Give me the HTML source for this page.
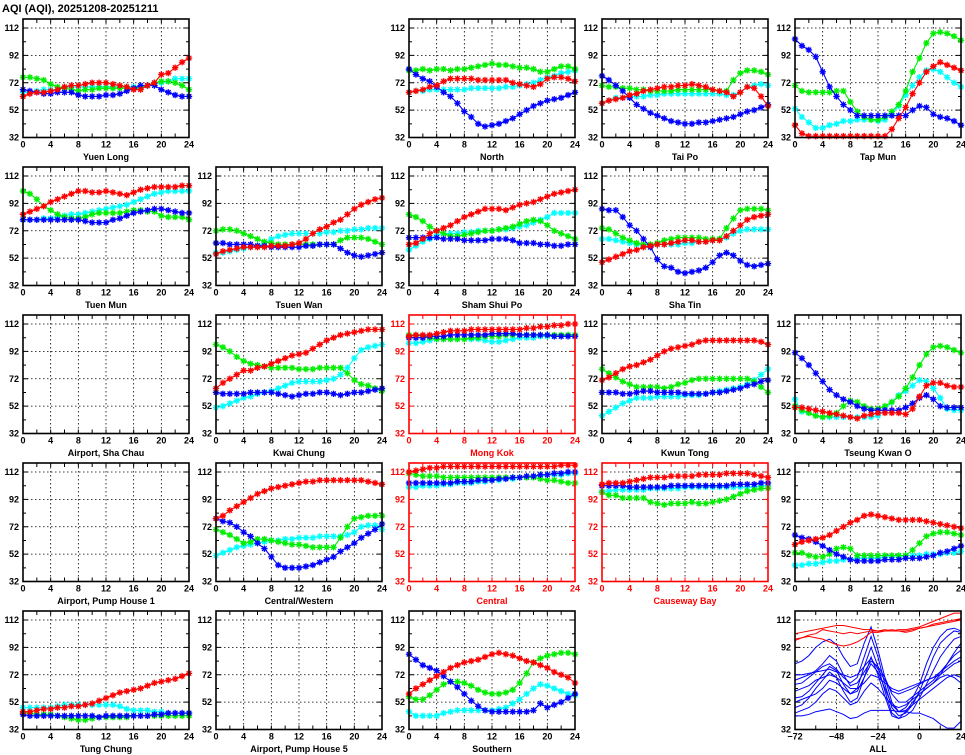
<!DOCTYPE html>
<html><head><meta charset="utf-8"><style>
body{margin:0;background:#fff;}
svg{display:block;font-family:"Liberation Sans",sans-serif;}
</style></head><body>
<svg id="chart" width="965" height="755" viewBox="0 0 965 755" xmlns="http://www.w3.org/2000/svg">
<text x="2" y="12" font-size="11" font-weight="bold">AQI (AQI), 20251208-20251211</text>
</svg>
<script>
const hours = [0,1,2,3,4,5,6,7,8,9,10,11,12,13,14,15,16,17,18,19,20,21,22,23,24];
const allHours = [-72,-68,-64,-60,-56,-52,-48,-44,-40,-36,-32,-28,-24,-20,-16,-12,-8,-4,0,4,8,12,16,20,24];
const yTicks = [32,52,72,92,112];
const xTicks = [0,4,8,12,16,20,24];
const allXTicks = [-72,-48,-24,0,24];

const yuenLong = {
 red:[62,64,65,65,66,67,69,70,70,71,72,72,72,71,70,69,67,67,70,72,78,79,83,87,90],
 green:[76,76,75,74,71,69,68,67,66,67,67,68,68,68,68,68,68,68,70,72,73,73,72,70,67],
 cyan:[65,65,66,67,67,67,68,69,69,69,69,69,69,69,69,69,69,69,70,71,72,73,75,75,75],
 blue:[67,66,65,64,64,65,65,65,63,62,62,62,63,63,64,66,68,70,70,70,67,65,63,62,62]};
const north = {
 red:[65,66,67,69,70,73,75,75,75,75,74,74,74,74,74,72,71,70,69,71,75,76,76,75,73],
 green:[81,81,82,81,82,82,81,82,82,83,84,85,86,85,85,84,83,83,82,80,80,82,84,84,82],
 cyan:[65,66,66,67,67,67,67,67,67,68,68,68,68,68,69,69,70,71,72,74,76,77,79,80,81],
 blue:[82,78,75,73,69,65,62,57,51,47,42,40,41,42,44,46,49,52,55,57,59,60,61,63,65]};
const taiPo = {
 red:[57,59,60,61,63,64,66,67,68,69,69,70,70,71,70,69,67,66,65,62,65,69,68,62,55],
 green:[70,69,69,68,68,67,67,66,66,66,66,67,67,67,67,67,67,66,66,74,79,81,81,80,78],
 cyan:[57,59,61,61,62,62,62,63,63,64,64,64,64,64,64,64,64,64,63,63,65,69,70,71,70],
 blue:[77,74,70,66,61,56,53,50,48,46,44,43,42,42,43,43,44,45,46,47,49,51,52,54,56]};
const tapMun = {
 red:[41,35,33,33,33,33,33,33,33,33,33,33,33,33,38,46,54,64,72,80,84,87,85,83,81],
 green:[70,66,65,65,65,65,66,66,58,51,47,45,45,47,51,56,66,80,90,101,108,109,108,106,103],
 cyan:[53,47,43,39,39,41,42,44,44,45,45,45,44,45,49,55,63,70,76,81,82,80,76,72,69],
 blue:[104,99,96,91,80,69,62,56,52,48,48,48,48,48,48,48,48,52,55,54,49,47,46,44,41]};
const tuenMun = {
 red:[84,86,88,90,93,95,97,99,101,101,100,100,101,100,99,98,100,102,103,104,104,104,104,105,105],
 green:[101,99,95,90,87,84,82,81,81,82,84,85,85,85,85,86,87,87,86,86,83,82,82,82,80],
 cyan:[80,80,80,81,81,82,83,84,84,85,86,87,88,89,90,91,93,95,97,99,100,101,101,101,101],
 blue:[80,80,80,80,80,80,80,80,80,79,78,78,78,80,81,83,85,86,87,88,88,87,86,85,85]};
const tsuenWan = {
 red:[55,57,58,59,60,60,60,60,61,61,61,62,63,66,70,73,75,78,80,84,88,91,93,95,96],
 green:[72,73,73,72,70,68,66,64,63,62,62,62,62,62,62,62,62,62,65,67,67,67,66,64,62],
 cyan:[56,56,57,58,59,60,61,63,66,68,69,70,70,70,70,70,71,71,72,72,73,73,74,74,74],
 blue:[63,63,62,62,62,62,61,61,60,60,60,60,60,61,61,62,62,62,59,56,54,53,54,55,56]};
const shamShuiPo = {
 red:[62,63,66,70,72,74,76,79,82,84,86,88,88,88,87,89,91,92,93,95,97,99,100,101,102],
 green:[84,82,79,75,72,70,68,68,69,70,71,72,72,73,74,75,77,79,80,79,76,72,70,68,66],
 cyan:[58,61,64,66,69,70,70,70,71,71,72,72,72,73,73,74,75,76,78,80,82,85,85,85,85],
 blue:[67,67,67,67,67,66,66,66,65,65,65,65,66,66,66,65,63,63,63,62,62,61,61,62,62]};
const shaTin = {
 red:[49,51,53,55,57,58,60,61,62,62,63,64,65,65,64,64,65,65,68,72,76,80,82,83,84],
 green:[74,73,70,67,65,63,62,62,63,65,66,67,67,67,67,66,66,66,74,81,87,88,88,88,87],
 cyan:[66,66,65,64,63,62,61,61,62,62,62,62,63,63,64,64,65,66,67,70,72,73,73,73,73],
 blue:[88,87,87,82,76,72,66,60,51,46,45,42,41,42,43,45,49,54,56,54,50,47,46,47,48]};
const kwaiChung = {
 red:[65,69,72,75,78,78,80,81,83,85,87,89,90,91,94,97,100,102,104,105,106,107,108,108,108],
 green:[97,95,92,88,85,83,82,81,80,80,80,80,79,79,79,80,80,80,80,76,71,68,67,65,63],
 cyan:[51,52,54,56,58,59,61,62,63,65,67,69,70,70,70,70,71,72,75,80,87,93,95,96,97],
 blue:[62,61,61,61,61,62,62,62,62,61,60,59,60,61,61,62,62,61,60,61,62,62,63,64,65]};
const mongKok = {
 red:[103,104,104,104,105,106,107,107,107,108,108,108,108,108,108,108,108,109,109,110,110,111,111,112,112],
 green:[104,104,103,102,101,101,101,101,101,102,102,103,103,103,104,104,104,104,104,104,104,104,104,104,104],
 cyan:[98,98,99,100,101,101,101,101,101,101,101,100,99,99,100,101,102,102,102,103,103,103,103,104,104],
 blue:[102,102,102,103,103,103,104,104,104,104,104,104,105,105,105,105,104,104,104,104,104,103,103,103,103]};
const kwunTong = {
 red:[71,73,76,79,81,82,84,86,89,92,94,95,96,97,99,100,100,100,100,100,100,100,100,99,97],
 green:[79,76,73,70,68,66,66,66,66,65,66,68,69,71,72,72,72,72,72,72,72,72,70,66,62],
 cyan:[45,48,51,54,56,58,58,58,59,59,59,59,60,60,60,61,62,63,64,65,66,68,71,75,79],
 blue:[62,62,62,61,61,62,63,63,62,62,62,62,61,61,61,61,62,62,63,64,65,67,68,70,71]};
const tseungKwanO = {
 red:[51,51,50,49,48,47,46,45,44,43,45,46,47,47,47,47,46,50,59,67,69,69,67,66,66],
 green:[52,49,47,45,44,45,47,52,56,55,52,50,50,52,55,59,65,73,82,90,95,96,95,93,91],
 cyan:[57,48,47,45,44,44,44,44,44,44,44,44,45,49,55,60,63,67,71,70,65,58,50,49,49],
 blue:[91,87,82,76,70,64,60,57,55,52,50,49,49,49,49,49,51,54,58,60,57,52,51,51,51]};
const centralWestern = {
 red:[78,80,84,87,90,93,96,98,100,101,102,103,104,105,105,106,106,106,106,106,106,106,105,104,103],
 green:[70,68,66,63,60,61,63,63,62,61,60,59,59,58,57,57,57,57,64,72,78,79,80,80,80],
 cyan:[51,53,55,57,58,59,60,61,62,62,63,63,64,64,64,65,65,65,65,66,68,72,73,73,70],
 blue:[78,76,75,72,68,65,60,56,50,44,42,42,42,43,44,46,48,50,54,57,60,64,67,70,74]};
const central = {
 red:[112,113,114,115,115,116,116,116,116,116,116,116,116,116,116,116,116,116,116,116,116,116,117,117,117],
 green:[111,110,109,109,109,108,108,108,108,108,108,108,108,108,108,108,108,108,108,107,106,106,105,104,104],
 cyan:[101,101,102,102,102,103,103,104,104,104,105,105,106,106,107,107,108,108,109,109,110,110,110,111,111],
 blue:[104,104,104,104,104,104,104,105,105,105,106,106,106,107,107,108,108,109,109,110,110,111,111,112,112]};
const causewayBay = {
 red:[103,104,104,104,105,106,107,108,108,108,109,109,109,109,110,110,110,110,111,111,111,111,110,109,108],
 green:[97,95,95,93,93,93,93,90,89,88,89,89,89,90,89,89,90,91,92,94,96,98,99,100,100],
 cyan:[98,98,99,99,99,99,99,100,100,100,100,100,101,101,101,101,101,101,101,101,101,101,101,102,102],
 blue:[102,102,102,102,101,101,101,101,101,101,102,102,102,102,102,102,102,102,102,103,103,103,103,104,104]};
const eastern = {
 red:[59,61,62,63,64,66,69,72,75,77,80,81,80,79,78,77,77,77,77,76,75,74,73,72,71],
 green:[53,53,51,50,50,52,56,57,56,51,51,51,51,51,51,51,51,55,60,65,67,68,68,67,66],
 cyan:[44,44,45,45,46,47,47,48,48,49,49,49,49,50,50,50,51,51,51,52,52,52,53,53,54],
 blue:[66,64,63,61,58,55,52,50,48,47,47,47,47,48,48,48,49,49,49,50,51,53,54,56,58]};
const tungChung = {
 red:[45,45,46,47,47,48,48,49,49,50,51,53,55,57,59,60,61,62,64,66,67,68,69,71,73],
 green:[44,44,43,43,43,42,41,40,39,39,40,41,41,41,41,41,42,42,42,42,42,42,42,42,42],
 cyan:[48,48,48,48,48,49,50,50,50,50,50,50,50,50,49,47,46,46,46,45,45,44,44,44,44],
 blue:[43,42,42,42,42,42,42,42,42,42,42,41,42,42,42,42,42,42,42,43,43,44,44,44,44]};
const southern = {
 red:[58,62,65,68,71,74,77,79,81,82,83,85,87,88,87,86,84,82,81,79,77,74,72,70,66],
 green:[56,54,54,57,61,65,67,67,66,64,61,59,58,58,59,61,66,73,81,84,86,87,88,88,87],
 cyan:[45,42,42,42,42,44,45,46,46,46,46,46,46,47,48,51,54,58,62,65,64,62,60,58,57],
 blue:[87,83,79,77,75,71,67,63,58,53,49,46,45,45,45,45,45,45,46,51,48,50,52,55,58]};

const allRed1 = [102,103,104,105,106,107,108,108,107,106,105,105,104,104,104,105,105,106,107,109,111,113,115,117,117];
const allRed2 = [98,99,101,102,105,104,103,102,103,102,103,104,104,105,104,104,103,104,106,107,109,110,111,112,113];
const allRed3 = [97,99,100,99,98,96,94,93,94,96,99,103,103,104,105,104,104,105,106,107,108,109,110,111,112];
const allBlue1 = [80,82,86,92,96,98,94,85,78,80,95,107,90,70,52,45,48,55,65,80,92,100,105,106,104];
const allBlue2 = [65,66,70,74,78,80,76,70,66,70,85,100,85,65,48,42,44,50,60,72,85,95,100,104,103];
const allBlue3 = [55,56,60,66,72,78,75,65,58,62,78,92,78,60,44,40,42,46,55,65,75,85,92,98,100];
const allBlue4 = [48,50,55,62,68,74,70,60,52,55,70,85,72,56,42,40,45,52,58,62,66,72,80,88,95];
const allBlue5 = [72,72,73,74,75,76,74,72,70,72,78,84,76,68,60,58,60,62,65,68,70,72,76,80,82];
const allBlue6 = [60,62,64,68,70,72,70,66,62,62,66,72,70,66,62,60,62,64,66,68,70,74,78,82,85];
const allBlue7 = [42,42,43,45,46,47,45,43,40,41,44,46,46,46,46,45,45,44,44,42,40,36,33,33,38];
const allBlue8 = [52,54,56,58,62,68,66,62,58,60,70,80,74,62,50,45,46,50,54,58,62,66,70,72,70];
const allBlue9 = [68,70,72,75,80,86,82,72,64,66,74,82,78,70,58,52,52,56,60,64,68,74,80,86,90];
const allBlue10 = [44,46,48,52,58,62,60,55,50,52,60,66,62,56,50,48,50,54,58,62,66,70,72,70,66];

const panels = [
 {name:'Yuen Long', c:0, r:0, d:yuenLong},
 {name:'North', c:2, r:0, d:north},
 {name:'Tai Po', c:3, r:0, d:taiPo},
 {name:'Tap Mun', c:4, r:0, d:tapMun},
 {name:'Tuen Mun', c:0, r:1, d:tuenMun},
 {name:'Tsuen Wan', c:1, r:1, d:tsuenWan},
 {name:'Sham Shui Po', c:2, r:1, d:shamShuiPo},
 {name:'Sha Tin', c:3, r:1, d:shaTin},
 {name:'Airport, Sha Chau', c:0, r:2, d:null},
 {name:'Kwai Chung', c:1, r:2, d:kwaiChung},
 {name:'Mong Kok', c:2, r:2, d:mongKok, hl:true},
 {name:'Kwun Tong', c:3, r:2, d:kwunTong},
 {name:'Tseung Kwan O', c:4, r:2, d:tseungKwanO},
 {name:'Airport, Pump House 1', c:0, r:3, d:null},
 {name:'Central/Western', c:1, r:3, d:centralWestern},
 {name:'Central', c:2, r:3, d:central, hl:true},
 {name:'Causeway Bay', c:3, r:3, d:causewayBay, hl:true},
 {name:'Eastern', c:4, r:3, d:eastern},
 {name:'Tung Chung', c:0, r:4, d:tungChung},
 {name:'Airport, Pump House 5', c:1, r:4, d:null},
 {name:'Southern', c:2, r:4, d:southern},
 {name:'ALL', c:4, r:4, d:null, all:true}
];
const colors = {red:'#ff0000', green:'#00ee00', cyan:'#00ffff', blue:'#0000ff'};
const order = ['cyan','green','blue','red'];

const svg = document.getElementById('chart');
const NS = 'http://www.w3.org/2000/svg';
function mk(tag, attrs, parent){
  const e = document.createElementNS(NS, tag);
  for (const k in attrs) e.setAttribute(k, attrs[k]);
  (parent||svg).appendChild(e);
  return e;
}
const W = 166, YMIN = 32, PXU = 109.5/80, H = 118.5;
function star(x,y){
  const s=3.2, d=2.3;
  return `M${x-s},${y}H${x+s}M${x},${y-s}V${y+s}M${x-d},${y-d}L${x+d},${y+d}M${x-d},${y+d}L${x+d},${y-d}`;
}

panels.forEach(p=>{
  const L = 23 + 193*p.c, B = 137.5 + 148*p.r, T = B - H;
  const xmin = p.all ? -72 : 0, xmax = 24;
  const xs = v => L + (v - xmin)/(xmax - xmin)*W;
  const ys = v => B - (v - YMIN)*PXU;
  const fc = p.hl ? '#ff0000' : '#000';
  const g = mk('g', {});
  
  
  const gx = p.all ? [-48,-24,0] : [4,8,12,16,20];
  gx.forEach(v=>mk('line',{x1:xs(v),x2:xs(v),y1:T,y2:B,stroke:'#000','stroke-width':0.8,'stroke-dasharray':'1.5,2.5'},g));
  [52,72,92,112].forEach(v=>mk('line',{x1:L,x2:L+W,y1:ys(v),y2:ys(v),stroke:'#000','stroke-width':0.8,'stroke-dasharray':'1.5,2.5'},g));
  let tp = '';
  for (let v=32; v<=112; v+=10){ const len = (v-32)%20===0?5:3; tp += `M${L},${ys(v)}h${len}M${L+W},${ys(v)}h${-len}`; }
  const step = p.all ? 12 : 2;
  for (let v=xmin; v<=xmax; v+=step){ const len = 4; tp += `M${xs(v)},${B}v${-len}M${xs(v)},${T}v${len}`; }
  mk('path',{d:tp,stroke:fc,'stroke-width':1,fill:'none'},g);
  if (p.d){
    order.forEach(k=>{
      const vals = p.d[k];
      let d='', m='';
      vals.forEach((v,i)=>{ const x=xs(hours[i]), y=ys(v); d += (i?'L':'M')+x+','+y; m += star(x,y); });
      const sg = mk('g',{},g);
      
      
      mk('path',{d:d,stroke:colors[k],'stroke-width':1.1,fill:'none'},sg);
      mk('path',{d:m,stroke:colors[k],'stroke-width':1.3,fill:'none'},sg);
    });
  }
  if (p.all){
    const blues=[allBlue1,allBlue2,allBlue3,allBlue4,allBlue5,allBlue6,allBlue7,allBlue8,allBlue9,allBlue10];
    const reds=[allRed1,allRed2,allRed3];
    blues.concat(reds).forEach((vals,j)=>{
      let d='';
      vals.forEach((v,i)=>{ d += (i?'L':'M')+xs(allHours[i])+','+ys(v); });
      const ln = mk('path',{d:d,stroke: j<blues.length?'#0000ff':'#ff0000','stroke-width':1,fill:'none'},g);
      
      
    });
  }
  mk('rect',{x:L,y:T,width:W,height:H,fill:'none',stroke:fc,'stroke-width':1.6},g);
  yTicks.forEach(v=>{ const t=mk('text',{x:L-4,y:ys(v)+3,'font-size':9,'font-weight':'bold','text-anchor':'end',fill:fc},g); t.textContent=v; });
  (p.all?allXTicks:xTicks).forEach(v=>{ const t=mk('text',{x:xs(v),y:B+10,'font-size':9,'font-weight':'bold','text-anchor':'middle',fill:fc},g); t.textContent = v<0 ? '\u2212'+(-v) : v; });
  const nt = mk('text',{x:L+W/2,y:B+22.5,'font-size':9,'font-weight':'bold','text-anchor':'middle',fill:fc},g);
  nt.textContent = p.name;
  
  
});
</script>
</body></html>
